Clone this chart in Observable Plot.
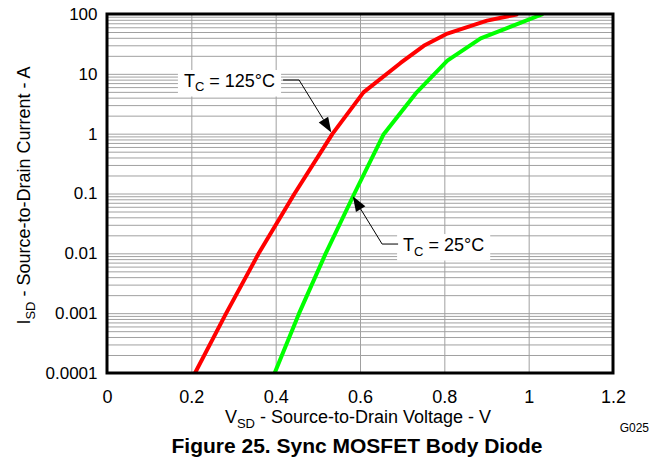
<!DOCTYPE html>
<html>
<head>
<meta charset="utf-8">
<script src="https://cdn.jsdelivr.net/npm/d3@7"></script>
<script src="https://cdn.jsdelivr.net/npm/@observablehq/plot@0.6"></script>
<style>
  html, body { margin: 0; padding: 0; background: #fff; }
  svg { display: block; }
</style>
</head>
<body>
<div id="chart"></div>
<script>
// ---- data ----
const xTicks = [0, 0.2, 0.4, 0.6, 0.8, 1, 1.2];
const xTickLabels = ["0", "0.2", "0.4", "0.6", "0.8", "1", "1.2"];
const yTicks = [0.0001, 0.001, 0.01, 0.1, 1, 10, 100];
const yTickLabels = ["0.0001", "0.001", "0.01", "0.1", "1", "10", "100"];

// Tc = 125°C (red)
const v125 = [0.207, 0.281, 0.358, 0.443, 0.533, 0.607, 0.695, 0.75, 0.806, 0.90, 0.97];
const i125 = [0.0001, 0.001, 0.01, 0.1, 1, 5, 15.5, 30, 48, 79, 100];
// Tc = 25°C (green)
const v25 = [0.396, 0.454, 0.517, 0.585, 0.655, 0.731, 0.806, 0.885, 0.949, 1.03];
const i25 = [0.0001, 0.001, 0.01, 0.1, 1, 4.8, 17, 40, 60, 100];

const series = [
  ...v125.map((v, k) => ({v, i: i125[k], s: "125"})),
  ...v25.map((v, k) => ({v, i: i25[k], s: "25"}))
];

// annotations: label, elbow [V, I], arrow tip [V, I], side
const annLabels = ["125°C", "25°C"];
const annElbows = [[0.4555, 7.89], [0.6524, 0.0143]];
const annTips = [[0.532, 1.05], [0.583, 0.09]];
const annSides = ["left", "right"];

// minor log gridlines
const minorY = [];
for (const d of yTicks.slice(0, -1)) for (let m = 1; m <= 9; m++) minorY.push(d * m);
minorY.push(100);

const FONT = "'Liberation Sans', Arial, sans-serif";

const plot = Plot.plot({
  width: 663,
  height: 462,
  marginLeft: 107,
  marginRight: 50,
  marginTop: 14,
  marginBottom: 89,
  style: {fontFamily: FONT, fontSize: "17px", color: "#000", background: "#fff"},
  x: {domain: [0, 1.2], axis: null},
  y: {type: "log", domain: [0.0001, 100], axis: null},
  marks: [
    Plot.ruleY(minorY, {stroke: "#a0a0a0", strokeWidth: 1, strokeOpacity: 1}),
    Plot.ruleX(xTicks, {stroke: "#a0a0a0", strokeWidth: 1}),
    Plot.line(series, {x: "v", y: "i", z: "s",
      stroke: d => d.s === "125" ? "#ff0000" : "#00ff00",
      strokeWidth: 4, clip: true, strokeLinejoin: "round"}),
    Plot.text(xTicks, {x: d => d, text: (d, k) => xTickLabels[k], frameAnchor: "bottom",
      lineAnchor: "top", dy: 17, fontSize: 18, fill: "#000"}),
    Plot.text(yTicks, {y: d => d, text: (d, k) => yTickLabels[k], frameAnchor: "left",
      textAnchor: "end", dx: -10, fontSize: 17, fill: "#000"})
  ]
});
document.getElementById("chart").appendChild(plot);

const sx = plot.scale("x"), sy = plot.scale("y");
const svg = d3.select(plot);
const ann = svg.append("g");

function subText(g, x, y, anchor, main, sub, rest, size, subSize, weight) {
  const t = g.append("text").attr("x", x).attr("y", y)
    .attr("text-anchor", anchor).attr("font-family", FONT)
    .attr("font-size", size).attr("fill", "#000");
  if (weight) t.attr("font-weight", weight);
  t.append("tspan").text(main);
  t.append("tspan").attr("font-size", subSize).attr("dy", size * 0.25).text(sub);
  t.append("tspan").attr("dy", -size * 0.25).text(rest);
  return t;
}

annLabels.forEach((lab, k) => {
  const ex = sx.apply(annElbows[k][0]), ey = sy.apply(annElbows[k][1]);
  const tx = sx.apply(annTips[k][0]), ty = sy.apply(annTips[k][1]);
  const left = annSides[k] === "left";
  const g = ann.append("g");
  const t = subText(g, left ? ex - 24 : ex + 21, ey + 7, left ? "end" : "start",
    "T", "C", " = " + lab, 18, 13);
  const bb = t.node().getBBox();
  g.insert("rect", "text").attr("x", bb.x - 6).attr("y", bb.y - 1)
    .attr("width", bb.width + 12).attr("height", bb.height + 3).attr("fill", "#fff");
  // leader
  const hx = left ? ex - 16 : ex + 16;
  const ang = Math.atan2(ty - ey, tx - ex);
  const L = 15, W = 5.5;
  const bx = tx - L * Math.cos(ang), by = ty - L * Math.sin(ang);
  g.append("path").attr("d", `M${hx},${ey}L${ex},${ey}L${bx},${by}`)
    .attr("fill", "none").attr("stroke", "#000").attr("stroke-width", 1);
  const px = -Math.sin(ang), py = Math.cos(ang);
  g.append("path").attr("d",
    `M${tx},${ty}L${bx + W * px},${by + W * py}L${bx - W * px},${by - W * py}Z`)
    .attr("fill", "#000");
});

// frame on top
const [x0, x1] = sx.range, [y0, y1] = sy.range;
svg.append("rect").attr("x", Math.min(x0, x1)).attr("y", Math.min(y0, y1))
  .attr("width", Math.abs(x1 - x0)).attr("height", Math.abs(y1 - y0))
  .attr("fill", "none").attr("stroke", "#000").attr("stroke-width", 3);

// axis labels
const cy = (y0 + y1) / 2;
subText(svg, 358, 423, "middle", "V", "SD", " - Source-to-Drain Voltage - V", 18, 13);
subText(svg.append("g").attr("transform", `translate(30,${cy + 2}) rotate(-90)`), 0, 0, "middle",
  "I", "SD", " - Source-to-Drain Current - A", 18, 13);
svg.append("text").attr("x", 649).attr("y", 432).attr("text-anchor", "end")
  .attr("font-family", FONT).attr("font-size", 12).text("G025");
svg.append("text").attr("x", 357).attr("y", 453).attr("text-anchor", "middle")
  .attr("font-family", FONT).attr("font-size", 21).attr("font-weight", "bold")
  .text("Figure 25. Sync MOSFET Body Diode");
</script>
</body>
</html>
